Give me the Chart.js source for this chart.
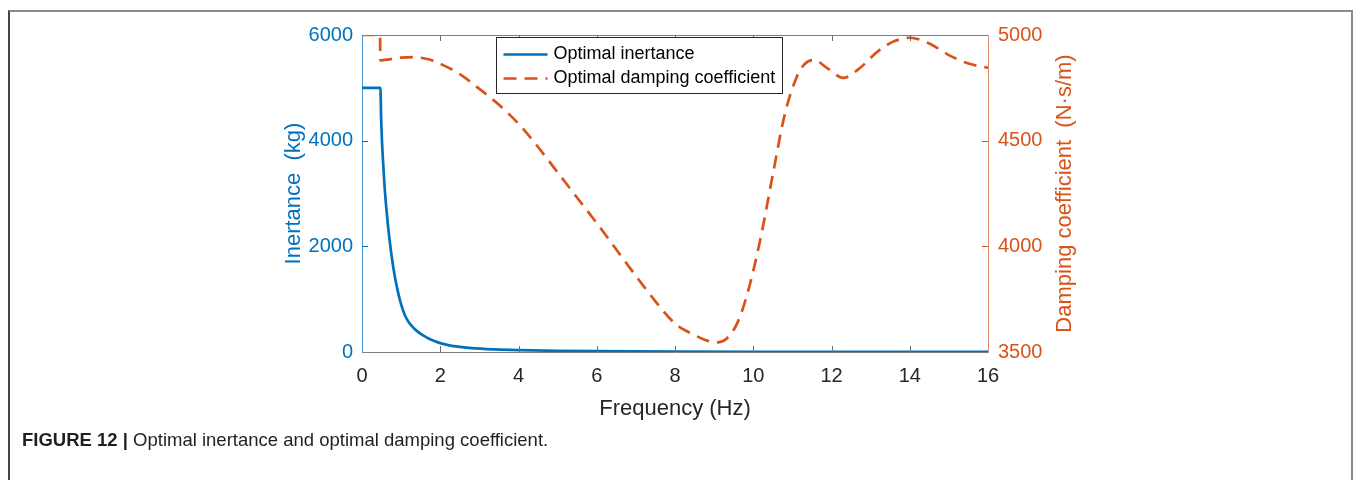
<!DOCTYPE html>
<html>
<head>
<meta charset="utf-8">
<script src="https://cdn.jsdelivr.net/npm/chart.js@4.4.1/dist/chart.umd.min.js"></script>
<style>
  html, body { margin:0; padding:0; background:#fff; width:1360px; height:480px; overflow:hidden; }
  #frame { position:absolute; left:8px; top:10px; width:1345px; height:490px;
           border-left:2px solid #444; border-top:2px solid #8a8a8a; border-right:2px solid #8a8a8a; box-sizing:border-box; }
  #chart { position:absolute; left:0; top:0; }
  #caption { position:absolute; left:22px; top:430px; font-family:"Liberation Sans", Arial, sans-serif;
             font-size:18.5px; line-height:20px; color:#231f20; white-space:nowrap; }
  #caption b { font-weight:bold; }
</style>
</head>
<body>
<div id="frame"></div>
<canvas id="chart" width="1360" height="480"></canvas>
<div id="caption"><b>FIGURE 12 |</b> Optimal inertance and optimal damping coefficient.</div>
<script>
// ---- data ----
const inertanceFreq = [0, 0.47, 0.49, 0.51, 0.54, 0.58, 0.63, 0.7, 0.8, 0.9, 1.0, 1.1, 1.2, 1.3, 1.4, 1.55, 1.7, 1.85, 2.0, 2.2, 2.4, 2.8, 3.4, 4.0, 5.0, 6.0, 8.0, 10, 12, 14, 16];
const inertance     = [5000, 5000, 4400, 4000, 3580, 3100, 2650, 2150, 1600, 1200, 900, 690, 560, 470, 400, 318, 256, 207, 168, 130, 105, 72, 48, 35, 22, 15, 8, 5, 4, 3, 2];

const dampingFreq = [0, 0.46, 0.47, 0.7, 1.0, 1.3, 1.7, 2.1, 2.5, 3.0, 3.5, 4.0, 4.5, 5.0, 5.5, 6.0, 6.5, 7.0, 7.5, 8.0, 8.5, 8.8, 9.05, 9.3, 9.6, 9.9, 10.2, 10.5, 10.8, 11.1, 11.3, 11.55, 11.9, 12.3, 12.7, 13.2, 13.6, 14.0, 14.5, 15.0, 15.5, 16];
const damping     = [5000, 5000, 4880, 4885, 4893, 4895, 4885, 4855, 4815, 4745, 4670, 4580, 4470, 4350, 4230, 4110, 3985, 3860, 3740, 3635, 3580, 3555, 3545, 3560, 3640, 3810, 4050, 4340, 4620, 4797, 4860, 4882, 4842, 4797, 4840, 4925, 4970, 4987, 4960, 4905, 4865, 4845];

const seriesLabels = ['Optimal inertance', 'Optimal damping coefficient'];
const xTitle = 'Frequency (Hz)';
const leftTitle = 'Inertance  (kg)';
const rightTitle = 'Damping coefficient  (N\u00B7s/m)';

const BLUE = '#0072BD';
const ORANGE = '#D95319';
const FONT = '"Liberation Sans", Arial, sans-serif';

const toPts = (xs, ys) => xs.map((x, i) => ({x, y: ys[i]}));
const plainNum = v => String(v);

const inwardTicks = {
  id: 'inwardTicks',
  afterDatasetsDraw(chart) {
    const {ctx, chartArea: ca, scales} = chart;
    const L = 6;
    ctx.save();
    ctx.lineWidth = 1;
    ctx.strokeStyle = '#7f7f7f';
    ctx.beginPath(); ctx.moveTo(ca.left, ca.top + 0.5); ctx.lineTo(ca.right, ca.top + 0.5); ctx.stroke();
    ctx.strokeStyle = '#6f6f6f';
    const xt = scales.x.ticks;
    xt.forEach((t, i) => {
      if (i === 0 || i === xt.length - 1) return;
      const px = Math.round(scales.x.getPixelForValue(t.value)) + 0.5;
      ctx.beginPath();
      ctx.moveTo(px, ca.bottom); ctx.lineTo(px, ca.bottom - L);
      ctx.moveTo(px, ca.top); ctx.lineTo(px, ca.top + L);
      ctx.stroke();
    });
    ctx.strokeStyle = BLUE;
    const yt = scales.y.ticks;
    yt.forEach((t, i) => {
      if (i === 0 || i === yt.length - 1) return;
      const py = Math.round(scales.y.getPixelForValue(t.value)) + 0.5;
      ctx.beginPath(); ctx.moveTo(ca.left, py); ctx.lineTo(ca.left + L, py); ctx.stroke();
    });
    ctx.strokeStyle = ORANGE;
    const rt = scales.y1.ticks;
    rt.forEach((t, i) => {
      if (i === 0 || i === rt.length - 1) return;
      const py = Math.round(scales.y1.getPixelForValue(t.value)) + 0.5;
      ctx.beginPath(); ctx.moveTo(ca.right, py); ctx.lineTo(ca.right - L, py); ctx.stroke();
    });
    ctx.restore();
  },
  afterDraw(chart) {
    const {ctx, chartArea: ca, scales} = chart;
    ctx.save();
    const s = scales.y1;
    ctx.translate(s.right - 13, (ca.top + ca.bottom) / 2);
    ctx.rotate(-Math.PI / 2);
    ctx.fillStyle = ORANGE;
    ctx.font = '22px ' + FONT;
    ctx.textAlign = 'center';
    ctx.textBaseline = 'middle';
    ctx.fillText(rightTitle, 0, 0);
    ctx.restore();

    ctx.save();
    const bx = ca.left + 134.5, by = ca.top + 2.5, bw = 286, bh = 56;
    ctx.fillStyle = '#fff';
    ctx.fillRect(bx, by, bw, bh);
    ctx.strokeStyle = '#262626';
    ctx.lineWidth = 1;
    ctx.strokeRect(bx, by, bw, bh);
    ctx.font = '18px ' + FONT;
    ctx.textBaseline = 'middle';
    ctx.textAlign = 'left';
    chart.data.datasets.forEach((ds, i) => {
      const cy = by + 17 + i * 24;
      ctx.strokeStyle = ds.borderColor;
      ctx.lineWidth = ds.borderWidth;
      ctx.setLineDash(ds.borderDash || []);
      ctx.beginPath(); ctx.moveTo(bx + 7, cy); ctx.lineTo(bx + 51, cy); ctx.stroke();
      ctx.setLineDash([]);
      ctx.fillStyle = '#000';
      ctx.fillText(ds.label, bx + 57, cy);
    });
    ctx.restore();
  }
};

new Chart(document.getElementById('chart'), {
  type: 'line',
  data: {
    datasets: [
      { label: seriesLabels[0], data: toPts(inertanceFreq, inertance), yAxisID: 'y',
        borderColor: BLUE, borderWidth: 2.7, pointRadius: 0, fill: false,
        cubicInterpolationMode: 'monotone' },
      { label: seriesLabels[1], data: toPts(dampingFreq, damping), yAxisID: 'y1',
        borderColor: ORANGE, borderWidth: 2.7, borderDash: [13, 8], pointRadius: 0, fill: false,
        cubicInterpolationMode: 'monotone' }
    ]
  },
  options: {
    responsive: false,
    animation: false,
    devicePixelRatio: 1,
    layout: { padding: { left: 272, right: 282, top: 35, bottom: 38 } },
    plugins: { legend: { display: false }, tooltip: { enabled: false } },
    scales: {
      x: {
        type: 'linear', min: 0, max: 16,
        afterFit(s) { s.height = 90; },
        grid: { display: false, drawTicks: false },
        border: { display: true, color: '#808080', width: 1 },
        ticks: { stepSize: 2, color: '#262626', font: { family: FONT, size: 20 }, padding: 12, maxRotation: 0, callback: plainNum },
        title: { display: true, text: xTitle, color: '#262626',
                 font: { family: FONT, size: 22, lineHeight: 1.2 }, padding: { top: 0, bottom: 20 } }
      },
      y: {
        type: 'linear', position: 'left', min: 0, max: 6000,
        afterFit(s) { s.width = 90; },
        grid: { display: false, drawTicks: false },
        border: { display: true, color: '#4f9ad6', width: 1 },
        ticks: { stepSize: 2000, color: BLUE, font: { family: FONT, size: 20 }, padding: 9, callback: plainNum },
        title: { display: true, text: leftTitle, color: BLUE,
                 font: { family: FONT, size: 22, lineHeight: 1.2 }, padding: { top: 9, bottom: 0 } }
      },
      y1: {
        type: 'linear', position: 'right', min: 3500, max: 5000,
        afterFit(s) { s.width = 90; },
        grid: { display: false, drawTicks: false },
        border: { display: true, color: '#dd8e6c', width: 1 },
        ticks: { stepSize: 500, color: ORANGE, font: { family: FONT, size: 20 }, padding: 10, callback: plainNum },
        title: { display: false }
      }
    }
  },
  plugins: [inwardTicks]
});
</script>
</body>
</html>
